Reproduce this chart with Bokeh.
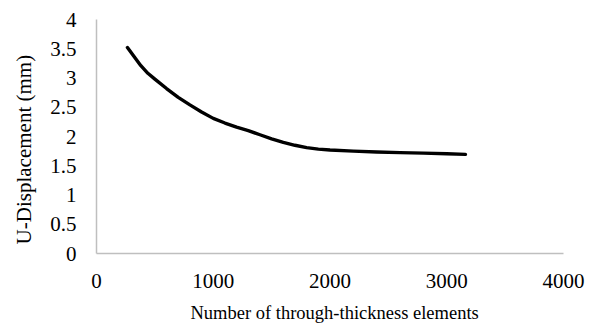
from bokeh.plotting import figure
from bokeh.models import Range1d, FixedTicker
from bokeh.embed import file_html
from bokeh.resources import INLINE

elements = [265, 320, 380, 440, 500, 600, 700, 800, 900, 1000, 1100, 1200, 1300, 1400,
            1500, 1600, 1700, 1800, 1900, 2000, 2200, 2400, 2600, 2800, 3000, 3160]
u_disp = [3.52, 3.37, 3.21, 3.08, 2.98, 2.82, 2.67, 2.54, 2.42, 2.31, 2.23, 2.16, 2.10, 2.03,
          1.96, 1.90, 1.85, 1.81, 1.785, 1.77, 1.75, 1.735, 1.725, 1.715, 1.705, 1.695]

x_ticks = [0, 1000, 2000, 3000, 4000]
y_ticks = [0, 0.5, 1, 1.5, 2, 2.5, 3, 3.5, 4]
x_title = "Number of through-thickness elements"
y_title = "U-Displacement (mm)"

p = figure(width=592, height=325, output_backend="svg", toolbar_location=None,
           x_range=Range1d(0, 4000), y_range=Range1d(0, 4),
           min_border_left=96, min_border_right=29, min_border_top=19, min_border_bottom=72)
p.outline_line_color = None
p.grid.visible = False

p.line(elements, u_disp, line_color="black", line_width=3.4, line_cap="round", line_join="round")

for ax in (p.xaxis[0], p.yaxis[0]):
    ax.axis_line_color = "#BFBFBF"
    ax.axis_line_width = 1.5
    ax.major_tick_line_color = None
    ax.minor_tick_line_color = None
    ax.major_tick_out = 0
    ax.major_tick_in = 0
    ax.minor_tick_out = 0
    ax.major_label_text_font = "Liberation Serif"
    ax.major_label_text_font_size = "21px"
    ax.major_label_text_color = "black"
    ax.axis_label_text_font = "Liberation Serif"
    ax.axis_label_text_font_style = "normal"
    ax.axis_label_text_color = "black"

p.xaxis[0].ticker = FixedTicker(ticks=x_ticks)
p.yaxis[0].ticker = FixedTicker(ticks=y_ticks)
p.yaxis[0].major_label_overrides = {0: "0", 0.5: "0.5", 1: "1", 1.5: "1.5", 2: "2", 2.5: "2.5", 3: "3", 3.5: "3.5", 4: "4"}
# non-breaking spaces shift the titles slightly off the frame centre, as in the reference
p.xaxis[0].axis_label = "\u00a0\u00a0" + x_title
p.yaxis[0].axis_label = y_title + "\u00a0" * 5
p.xaxis[0].axis_label_text_font_size = "18.5px"
p.yaxis[0].axis_label_text_font_size = "21px"
p.xaxis[0].major_label_standoff = 20
p.yaxis[0].major_label_standoff = 20
p.xaxis[0].axis_label_standoff = 12
p.yaxis[0].axis_label_standoff = 11

open("out.html", "w").write(file_html(p, INLINE))
